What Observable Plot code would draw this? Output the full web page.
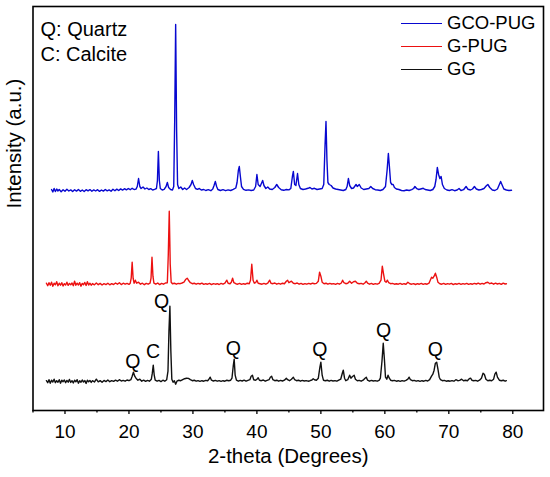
<!DOCTYPE html>
<html><head><meta charset="utf-8">
<script src="https://cdn.jsdelivr.net/npm/d3@7"></script>
<script src="https://cdn.jsdelivr.net/npm/@observablehq/plot@0.6"></script>
<style>
body{margin:0;background:#fff;}
#wrap{position:relative;width:550px;height:477px;font-family:"Liberation Sans",Arial,sans-serif;}
.leg{position:absolute;left:401px;display:flex;align-items:center;font-size:18.5px;height:20px;color:#000;}
.sw{width:41px;height:0;border-top:1.4px solid;margin-right:5px;}
</style></head><body><div id="wrap"></div>
<script>
// ---- data (2-theta in degrees, intensity in a.u. relative to each pattern's baseline) ----
const seriesNames = ["GCO-PUG", "G-PUG", "GG"];
const seriesColors = ["#0808d0", "#ec1111", "#111111"];
const offsets = [2200, 1263, 293];

const gcoPug = [[7.9,10],[8.1,-15],[8.3,20],[8.5,-10],[8.7,15],[8.9,-5],[9.1,10],[9.4,-12],[9.7,8],[10.0,-8],[10.3,12],[10.6,-5],[10.9,6],[11.2,-10],[11.5,8],[11.8,-6],[12.1,10],[12.4,-8],[12.7,5],[13.0,-10],[13.3,8],[13.6,-4],[13.9,9],[14.2,-8],[14.5,6],[14.8,-5],[15.1,8],[15.4,-9],[15.7,5],[16.0,-6],[16.3,10],[16.6,-4],[16.9,6],[17.2,-8],[17.5,12],[17.8,-2],[18.1,14],[18.4,0],[18.7,16],[19.0,4],[19.3,18],[19.6,6],[19.9,20],[20.2,8],[20.5,22],[20.8,10],[21.1,14],[21.3,40],[21.5,120],[21.7,40],[21.9,20],[22.2,35],[22.5,15],[22.8,25],[23.1,10],[23.4,18],[23.7,5],[24.0,12],[24.3,20],[24.45,100],[24.6,390],[24.75,100],[24.9,20],[25.2,5],[25.5,12],[25.8,40],[26.0,80],[26.2,30],[26.5,10],[26.8,5],[27.0,40],[27.15,700],[27.3,1660],[27.45,600],[27.6,60],[27.8,20],[28.1,35],[28.4,10],[28.7,25],[29.0,10],[29.4,30],[29.7,60],[29.9,100],[30.1,60],[30.4,20],[30.7,12],[31.0,20],[31.3,5],[31.7,10],[32.0,0],[32.4,8],[32.8,-2],[33.1,15],[33.3,50],[33.5,90],[33.7,40],[33.9,10],[34.3,0],[34.7,8],[35.1,-2],[35.5,6],[35.9,0],[36.3,12],[36.7,25],[36.9,80],[37.1,200],[37.25,240],[37.4,150],[37.6,40],[37.9,12],[38.3,2],[38.7,6],[39.1,0],[39.5,5],[39.8,40],[40.0,160],[40.2,60],[40.5,40],[40.7,70],[40.9,100],[41.1,50],[41.4,20],[41.7,35],[42.0,15],[42.4,10],[42.8,30],[43.1,60],[43.4,30],[43.8,8],[44.2,2],[44.6,10],[45.0,6],[45.3,20],[45.55,140],[45.7,190],[45.9,60],[46.1,50],[46.35,170],[46.55,60],[46.8,20],[47.2,10],[47.6,15],[48.0,22],[48.3,30],[48.6,15],[49.0,22],[49.4,10],[49.8,15],[50.2,20],[50.45,60],[50.65,450],[50.8,690],[50.95,300],[51.1,80],[51.3,60],[51.6,50],[51.9,25],[52.3,15],[52.7,10],[53.1,5],[53.5,0],[53.9,10],[54.1,40],[54.3,120],[54.5,50],[54.8,20],[55.1,25],[55.5,60],[55.7,40],[56.0,60],[56.3,25],[56.7,10],[57.1,15],[57.5,20],[57.8,40],[58.1,20],[58.5,8],[58.9,5],[59.3,0],[59.7,10],[60.1,40],[60.35,200],[60.55,370],[60.7,250],[60.9,80],[61.1,60],[61.3,60],[61.5,30],[61.8,15],[62.2,10],[62.6,0],[63.0,-2],[63.4,5],[63.8,0],[64.2,8],[64.5,20],[64.7,40],[65.0,18],[65.3,10],[65.6,15],[66.0,22],[66.3,10],[66.7,5],[67.1,0],[67.5,10],[67.8,40],[68.0,110],[68.2,230],[68.4,160],[68.6,120],[68.8,140],[69.0,60],[69.3,20],[69.7,5],[70.1,0],[70.5,8],[70.9,-2],[71.3,5],[71.6,20],[71.9,0],[72.3,8],[72.7,40],[73.0,12],[73.4,5],[73.7,15],[74.0,40],[74.3,15],[74.7,5],[75.1,10],[75.5,20],[75.9,50],[76.1,60],[76.4,30],[76.8,5],[77.2,0],[77.6,15],[77.9,60],[78.1,90],[78.3,60],[78.6,15],[79.0,5],[79.4,0],[79.8,3]];

const gPug = [[7.1,10],[7.3,-15],[7.5,15],[7.7,-10],[7.9,20],[8.1,-20],[8.3,10],[8.5,-5],[8.7,25],[8.9,-15],[9.1,10],[9.3,-10],[9.5,15],[9.7,-18],[9.9,5],[10.1,-8],[10.3,20],[10.5,-12],[10.7,8],[10.9,-6],[11.1,12],[11.3,-15],[11.5,30],[11.7,-10],[11.9,10],[12.1,-8],[12.3,15],[12.5,-20],[12.7,8],[12.9,-5],[13.1,18],[13.3,-12],[13.5,25],[13.7,-8],[13.9,10],[14.1,-10],[14.3,6],[14.6,-6],[14.9,12],[15.2,-5],[15.5,8],[15.8,-8],[16.1,5],[16.4,-4],[16.7,10],[17.0,-6],[17.3,6],[17.6,-3],[17.9,12],[18.2,0],[18.5,15],[18.8,-4],[19.1,10],[19.4,0],[19.7,8],[20.0,-2],[20.2,10],[20.35,60],[20.5,220],[20.65,60],[20.8,10],[21.0,40],[21.2,10],[21.5,20],[21.8,0],[22.1,10],[22.4,-5],[22.7,8],[23.0,0],[23.3,10],[23.45,60],[23.6,270],[23.75,80],[23.9,10],[24.2,0],[24.5,12],[24.8,-4],[25.1,8],[25.4,0],[25.7,12],[26.0,15],[26.15,300],[26.3,730],[26.45,200],[26.6,20],[26.8,5],[27.1,10],[27.4,0],[27.7,8],[28.0,5],[28.3,12],[28.6,20],[28.9,50],[29.1,60],[29.3,40],[29.6,15],[29.9,5],[30.2,10],[30.5,0],[30.8,8],[31.1,2],[31.4,10],[31.7,-2],[32.0,5],[32.3,0],[32.6,8],[32.9,-4],[33.2,6],[33.5,0],[33.8,5],[34.1,-3],[34.4,8],[34.7,0],[35.0,10],[35.3,40],[35.5,10],[35.8,5],[36.0,20],[36.2,60],[36.4,15],[36.7,5],[37.0,0],[37.3,8],[37.6,-2],[37.9,5],[38.2,0],[38.5,10],[38.8,5],[39.0,40],[39.2,200],[39.4,40],[39.6,10],[39.8,15],[40.0,40],[40.2,10],[40.5,5],[40.8,0],[41.1,8],[41.4,0],[41.7,10],[42.0,40],[42.2,10],[42.5,5],[42.8,12],[43.1,0],[43.4,8],[43.7,0],[44.0,10],[44.3,5],[44.6,30],[44.8,40],[45.0,15],[45.4,30],[45.7,10],[46.0,5],[46.3,12],[46.6,0],[46.9,8],[47.2,-2],[47.5,6],[47.8,0],[48.1,8],[48.4,2],[48.7,10],[49.0,5],[49.3,8],[49.6,30],[49.8,120],[50.0,80],[50.2,20],[50.5,5],[50.8,10],[51.1,0],[51.4,8],[51.7,2],[52.0,6],[52.3,-2],[52.6,8],[52.9,0],[53.2,12],[53.4,40],[53.6,15],[53.9,5],[54.2,10],[54.5,30],[54.8,10],[55.1,25],[55.4,30],[55.7,10],[56.0,5],[56.3,8],[56.6,0],[56.9,15],[57.1,30],[57.3,10],[57.6,0],[57.9,8],[58.2,-2],[58.5,6],[58.8,0],[59.1,8],[59.4,40],[59.6,180],[59.8,100],[60.0,30],[60.2,20],[60.4,40],[60.6,15],[60.9,5],[61.2,8],[61.5,0],[61.8,5],[62.1,0],[62.4,8],[62.7,-2],[63.0,5],[63.3,0],[63.6,20],[63.9,5],[64.2,0],[64.5,6],[64.8,-3],[65.1,5],[65.4,0],[65.7,8],[66.0,-2],[66.3,5],[66.6,0],[66.9,10],[67.1,40],[67.3,70],[67.5,60],[67.7,80],[67.9,110],[68.1,70],[68.3,20],[68.6,5],[68.9,0],[69.2,8],[69.5,-2],[69.8,6],[70.1,0],[70.4,8],[70.7,-4],[71.0,5],[71.3,0],[71.6,8],[71.9,-2],[72.2,6],[72.5,0],[72.8,8],[73.1,-2],[73.4,5],[73.7,0],[74.0,8],[74.3,2],[74.6,10],[74.9,0],[75.2,8],[75.5,2],[75.8,15],[76.1,20],[76.4,5],[76.7,12],[77.0,0],[77.3,10],[77.6,2],[77.9,8],[78.2,-2],[78.5,10],[78.8,2],[79.0,5]];

const gg = [[7.1,5],[7.3,-15],[7.5,15],[7.7,-20],[7.9,10],[8.1,-8],[8.3,20],[8.5,-15],[8.7,5],[8.9,-10],[9.1,15],[9.3,-20],[9.5,10],[9.7,-5],[9.9,12],[10.1,-15],[10.3,8],[10.5,-10],[10.7,18],[10.9,-12],[11.1,5],[11.3,-18],[11.5,10],[11.7,-6],[11.9,15],[12.1,-20],[12.3,5],[12.5,-10],[12.7,12],[12.9,-8],[13.1,6],[13.3,-22],[13.5,10],[13.7,-6],[13.9,8],[14.1,-12],[14.3,5],[14.6,-8],[14.9,20],[15.2,-6],[15.5,6],[15.8,-10],[16.1,8],[16.4,-4],[16.7,12],[17.0,-5],[17.3,6],[17.6,-2],[17.9,10],[18.2,0],[18.5,15],[18.8,2],[19.1,8],[19.4,0],[19.7,12],[20.0,5],[20.3,15],[20.5,50],[20.7,90],[20.9,50],[21.1,30],[21.4,10],[21.7,20],[22.0,0],[22.3,10],[22.6,-2],[22.9,8],[23.2,0],[23.5,20],[23.65,80],[23.8,160],[23.95,60],[24.1,10],[24.4,0],[24.7,8],[25.0,-4],[25.3,10],[25.6,0],[25.9,15],[26.1,100],[26.25,500],[26.4,750],[26.55,300],[26.7,20],[26.9,-10],[27.1,5],[27.3,-30],[27.5,0],[27.8,10],[28.1,5],[28.4,15],[28.7,25],[29.0,30],[29.3,28],[29.6,15],[29.9,5],[30.2,10],[30.5,0],[30.8,6],[31.1,-2],[31.4,5],[31.7,0],[32.0,8],[32.3,5],[32.5,20],[32.7,40],[32.9,10],[33.2,2],[33.5,8],[33.8,0],[34.1,6],[34.4,-2],[34.7,5],[35.0,0],[35.3,10],[35.6,5],[35.9,10],[36.1,30],[36.3,150],[36.45,220],[36.6,60],[36.8,10],[37.1,0],[37.4,8],[37.7,2],[38.0,10],[38.3,0],[38.6,8],[38.9,15],[39.1,50],[39.3,60],[39.5,15],[39.8,10],[40.0,20],[40.2,35],[40.4,10],[40.7,5],[41.0,12],[41.3,0],[41.6,8],[41.9,15],[42.1,40],[42.3,50],[42.5,15],[42.8,5],[43.1,10],[43.4,0],[43.7,8],[44.0,2],[44.3,10],[44.6,30],[44.8,15],[45.1,5],[45.4,20],[45.7,40],[45.9,15],[46.2,5],[46.5,10],[46.8,0],[47.1,8],[47.4,2],[47.7,6],[48.0,0],[48.3,5],[48.6,12],[48.8,25],[49.0,15],[49.3,10],[49.6,30],[49.85,140],[50.0,190],[50.2,60],[50.4,10],[50.7,5],[51.0,10],[51.3,0],[51.6,8],[51.9,2],[52.2,6],[52.5,0],[52.8,10],[53.1,20],[53.35,80],[53.5,110],[53.7,30],[53.9,5],[54.2,15],[54.5,60],[54.7,30],[54.9,45],[55.2,60],[55.4,20],[55.7,5],[56.0,8],[56.3,0],[56.6,10],[56.9,30],[57.1,40],[57.3,10],[57.6,0],[57.9,8],[58.2,2],[58.5,6],[58.8,0],[59.1,8],[59.3,30],[59.55,200],[59.75,380],[59.95,200],[60.1,40],[60.3,20],[60.5,60],[60.7,30],[60.9,10],[61.2,5],[61.5,8],[61.8,0],[62.1,5],[62.4,-2],[62.7,6],[63.0,0],[63.3,8],[63.6,20],[63.8,40],[64.0,15],[64.3,5],[64.6,8],[64.9,0],[65.2,6],[65.5,-2],[65.8,5],[66.1,0],[66.4,8],[66.7,2],[67.0,15],[67.3,50],[67.5,70],[67.7,110],[67.9,180],[68.1,190],[68.3,120],[68.5,40],[68.7,15],[69.0,5],[69.3,8],[69.6,0],[69.9,5],[70.2,0],[70.5,6],[70.8,0],[71.1,15],[71.4,5],[71.7,8],[72.0,20],[72.3,5],[72.6,10],[72.9,5],[73.2,25],[73.4,30],[73.6,10],[73.9,5],[74.2,8],[74.5,0],[74.8,10],[75.1,30],[75.35,80],[75.55,70],[75.8,20],[76.1,5],[76.4,10],[76.7,5],[77.0,20],[77.2,70],[77.4,90],[77.6,40],[77.9,10],[78.2,5],[78.5,10],[78.8,0],[79.0,5]];

const patterns = [gcoPug, gPug, gg];

// phase labels on the GG pattern
const labelText = ["Q", "C", "Q", "Q", "Q", "Q", "Q"];
const labelTheta = [20.6, 23.75, 25.1, 36.3, 49.85, 59.8, 67.9];
const labelHeight = [190, 290, 790, 324, 317, 507, 317];

const majorTicks = [10, 20, 30, 40, 50, 60, 70, 80];
const minorTicks = [5, 15, 25, 35, 45, 55, 65, 75];
const phaseKey = "Q: Quartz\nC: Calcite";
const xTitle = "2-theta (Degrees)";
const yTitle = "Intensity (a.u.)";

// ---- build table ----
const rows = [];
patterns.forEach((pts, i) => {
  pts.forEach(([t, v]) => rows.push({series: seriesNames[i], theta: t, intensity: offsets[i] + v}));
});
const labels = labelText.map((s, i) => ({s, theta: labelTheta[i], intensity: offsets[2] + labelHeight[i]}));

const chart = Plot.plot({
  width: 550,
  height: 477,
  marginLeft: 32.5,
  marginRight: 7,
  marginTop: 6,
  marginBottom: 67,
  style: {fontFamily: "'Liberation Sans', Arial, sans-serif", fontSize: "18px", background: "#fff", color: "#000"},
  x: {domain: [5, 84.8]},
  y: {domain: [0, 4040], axis: null},
  color: {domain: seriesNames, range: seriesColors},
  marks: [
    Plot.line(rows, {x: "theta", y: "intensity", z: "series", stroke: "series", strokeWidth: 1.4}),
    Plot.text(labels, {x: "theta", y: "intensity", text: "s", fontSize: 19.5, fill: "#000"}),
    Plot.text([phaseKey], {frameAnchor: "top-left", textAnchor: "start", lineAnchor: "top", dx: 7.5, dy: 12, lineHeight: 1.25, fontSize: 20, fill: "#000"}),
    Plot.text([xTitle], {frameAnchor: "bottom", dy: 52, fontSize: 20.5, fill: "#000"}),
    Plot.text([yTitle], {frameAnchor: "left", rotate: -90, dx: -19, fontSize: 20.5, fill: "#000"}),
    Plot.axisX({ticks: majorTicks, tickSize: 4, tickPadding: 10, label: null, fontSize: 19, strokeWidth: 1.3}),
    Plot.axisX({ticks: minorTicks, tickSize: 2.5, fill: "none", label: null, strokeWidth: 1.3}),
    Plot.frame({stroke: "#000", strokeWidth: 1.6})
  ]
});
const wrap = document.getElementById("wrap");
wrap.appendChild(chart);

// legend
seriesNames.forEach((name, i) => {
  const row = document.createElement("div");
  row.className = "leg";
  row.style.top = (13 + 23 * i) + "px";
  const sw = document.createElement("span");
  sw.className = "sw";
  sw.style.borderTopColor = seriesColors[i];
  const tx = document.createElement("span");
  tx.textContent = name;
  row.appendChild(sw);
  row.appendChild(tx);
  wrap.appendChild(row);
});
</script></body></html>
